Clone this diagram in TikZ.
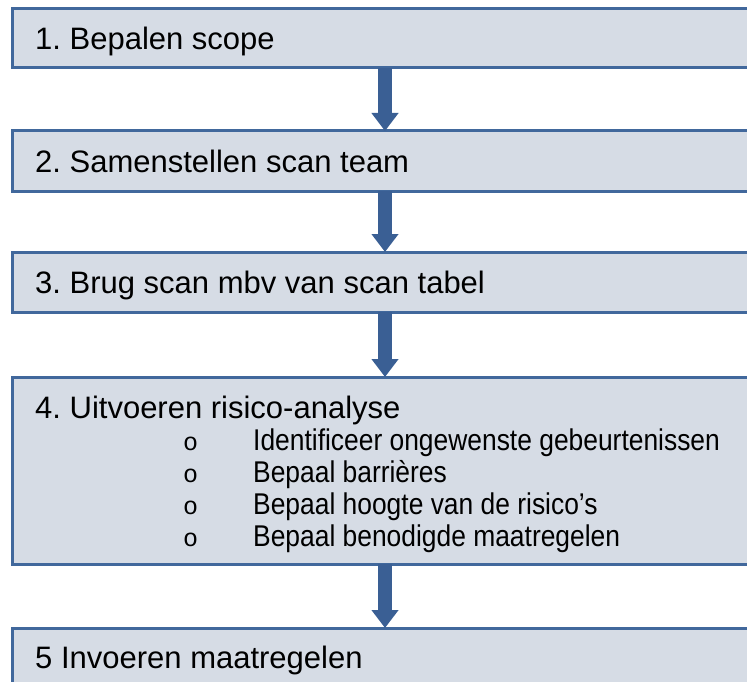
\documentclass[tikz,border=0pt]{standalone}
\usepackage{fontspec}
\setmainfont{Liberation Sans}
\newfontfamily\bulletfont{Liberation Mono}
\newfontfamily\itemfont[FakeStretch=0.88]{Liberation Sans}
\usetikzlibrary{arrows.meta}
\definecolor{boxfill}{HTML}{D6DCE5}
\definecolor{boxline}{HTML}{41689C}
\definecolor{arrowfill}{HTML}{3A5F94}
\frenchspacing
\tikzset{
  stepbox/.style={draw=boxline, fill=boxfill, line width=3pt, rectangle,
    minimum width=746pt, anchor=north west, inner sep=0pt, outer sep=0pt},
  steptext/.style={anchor=base west, inner sep=0pt, font=\fontsize{31}{34}\selectfont},
  itemtext/.style={anchor=base west, inner sep=0pt, font=\itemfont\fontsize{30}{32}\selectfont},
  bullettext/.style={anchor=base west, inner sep=0pt, font=\bulletfont\fontsize{25}{28}\selectfont},
  flowarrow/.style={line width=14pt, draw=arrowfill,
    -{Triangle[width=26pt,length=18pt]}},
}
\begin{document}
\begin{tikzpicture}[x=1pt,y=1pt]
\useasboundingbox (0,0) rectangle (747,-682);
\clip (0,0) rectangle (747,-682);
\node[stepbox, minimum height=59pt] (b1) at (12,-9) {};
\node[stepbox, minimum height=60pt] (b2) at (12,-131) {};
\node[stepbox, minimum height=60pt] (b3) at (12,-252) {};
\node[stepbox, minimum height=187pt] (b4) at (12,-377) {};
\node[stepbox, minimum height=80pt] (b5) at (12,-628) {};

\node[steptext] (t1) at (35,-50) {1. Bepalen scope};
\node[steptext] (t2) at (35,-172) {2. Samenstellen scan team};
\node[steptext] (t3) at (35,-293) {3. Brug scan mbv van scan tabel};
\node[steptext] (t4) at (35,-418) {4. Uitvoeren risico-analyse};
\node[bullettext] (o1) at (183,-450) {o};
\node[itemtext] (i1) at (253,-450) {Identificeer ongewenste gebeurtenissen};
\node[bullettext] (o2) at (183,-482) {o};
\node[itemtext] (i2) at (253,-482) {Bepaal barrières};
\node[bullettext] (o3) at (183,-514) {o};
\node[itemtext] (i3) at (253,-514) {Bepaal hoogte van de risico’s};
\node[bullettext] (o4) at (183,-546) {o};
\node[itemtext] (i4) at (253,-546) {Bepaal benodigde maatregelen};
\node[steptext] (t5) at (35,-668) {5 Invoeren maatregelen};

\draw[flowarrow] (b1.south) -- (b2.north);
\draw[flowarrow] (b2.south) -- (b3.north);
\draw[flowarrow] (b3.south) -- (b4.north);
\draw[flowarrow] (b4.south) -- (b5.north);
\end{tikzpicture}
\end{document}
